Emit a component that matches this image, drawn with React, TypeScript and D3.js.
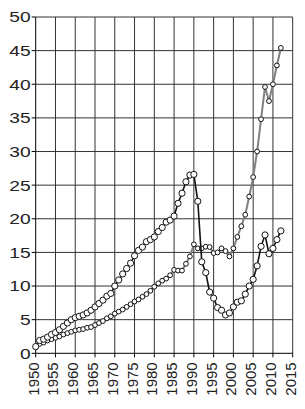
import React from "react";
import * as d3 from "d3";

const years: number[] = d3.range(1950, 2013);

const seriesA: number[] = [
  1.0, 1.9, 2.1, 2.4, 2.8, 3.1, 3.5, 4.0, 4.5, 5.0,
  5.3, 5.5, 5.7, 6.0, 6.4, 6.9, 7.4, 7.9, 8.5, 8.9,
  10.0, 10.9, 11.8, 12.6, 13.4, 14.5, 15.3, 15.8, 16.6, 16.9,
  17.3, 18.1, 18.7, 19.5, 19.8, 20.4, 22.3, 23.8, 25.5, 26.5,
  26.6, 22.6, 13.6, 12.0, 9.1, 8.2, 6.8, 6.4, 5.7, 6.0,
  6.9, 7.6, 7.8, 8.8, 10.0, 11.0, 13.0, 15.9, 17.6, 14.8,
  15.6, 16.9, 18.2,
];

const seriesB: number[] = [
  1.0, 1.4, 1.6, 1.9, 2.1, 2.3, 2.5, 2.8, 3.0, 3.2,
  3.4, 3.5, 3.6, 3.8, 3.9, 4.2, 4.5, 4.8, 5.2, 5.5,
  5.9, 6.2, 6.5, 6.9, 7.3, 7.7, 8.0, 8.4, 8.8, 9.3,
  9.9, 10.4, 10.8, 11.1, 11.6, 12.4, 12.3, 12.3, 13.3, 14.4,
  16.2, 15.6, 15.6, 15.85, 15.8, 14.9, 15.0, 15.6, 15.2, 14.4,
  15.6, 17.3, 18.9, 20.6, 23.3, 26.2, 30.0, 34.8, 39.6, 37.5,
  40.0, 42.8, 45.4,
];

const xTicks: number[] = d3.range(1950, 2016, 5);
const yTicks: number[] = d3.range(0, 51, 5);

export default function App() {
  const W = 305, H = 409;
  const x = d3.scaleLinear().domain([1950, 2015]).range([35.7, 292.7]);
  const y = d3.scaleLinear().domain([0, 50]).range([353.3, 17]);
  const lineA = d3.line<number>().x((_, i) => x(years[i])).y((d) => y(d));
  const font = "'Liberation Sans', Arial, sans-serif";
  const gridColor = "#333";
  return (
    <svg width={W} height={H} style={{ position: "absolute", left: 0, top: 0, background: "#fff" }}>
      {/* grid */}
      {xTicks.map((t) => (
        <line key={"gx" + t} x1={x(t)} x2={x(t)} y1={y(50)} y2={y(0)} stroke={t === 1950 ? "#000" : gridColor} strokeWidth={1} />
      ))}
      {yTicks.map((t) => (
        <line key={"gy" + t} x1={x(1950)} x2={x(2015)} y1={y(t)} y2={y(t)} stroke={t === 0 ? "#000" : gridColor} strokeWidth={1} />
      ))}
      {/* ticks */}
      {yTicks.map((t) => (
        <line key={"ty" + t} x1={x(1950) - 4} x2={x(1950)} y1={y(t)} y2={y(t)} stroke="#000" />
      ))}
      {xTicks.map((t) => (
        <line key={"tx" + t} x1={x(t)} x2={x(t)} y1={y(0)} y2={y(0) + 4} stroke="#000" />
      ))}
      {/* y labels */}
      {yTicks.map((t) => (
        <text
          key={"ly" + t}
          transform={`translate(${x(1950) - 5},${y(t)}) scale(1.28,1)`}
          textAnchor="end"
          dy="0.36em"
          fontFamily={font}
          fontSize={15}
          fill="#222"
        >
          {t}
        </text>
      ))}
      {/* x labels */}
      {xTicks.map((t) => (
        <text
          key={"lx" + t}
          transform={`translate(${x(t)},${y(0) + 9}) rotate(-90)`}
          textAnchor="end"
          dy="0.2em"
          fontFamily={font}
          fontSize={15}
          fill="#222"
        >
          {t}
        </text>
      ))}
      {/* series B */}
      <path d={lineA(seriesB) || ""} fill="none" stroke="#808080" strokeWidth={2} />
      {seriesB.map((v, i) => (
        <circle key={"b" + i} cx={x(years[i])} cy={y(v)} r={2.4} fill="#fff" stroke="#111" strokeWidth={1} />
      ))}
      {/* series A */}
      <path d={lineA(seriesA) || ""} fill="none" stroke="#111" strokeWidth={1.6} />
      {seriesA.map((v, i) => (
        <circle key={"a" + i} cx={x(years[i])} cy={y(v)} r={3.1} fill="#fff" stroke="#111" strokeWidth={1} />
      ))}
    </svg>
  );
}
